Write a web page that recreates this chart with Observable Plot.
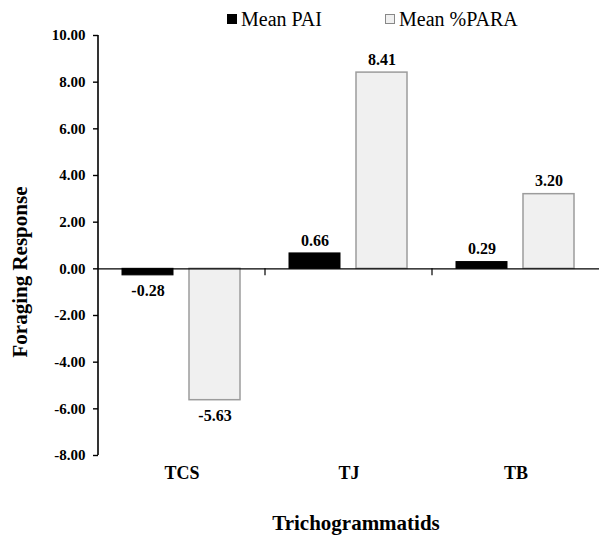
<!DOCTYPE html>
<html>
<head>
<meta charset="utf-8">
<script src="https://cdn.jsdelivr.net/npm/d3@7"></script>
<script src="https://cdn.jsdelivr.net/npm/@observablehq/plot@0.6"></script>
<style>
  body { margin: 0; background: #fff; }
  #wrap { position: relative; width: 600px; height: 537px; font-family: "Liberation Serif", Tinos, "Times New Roman", Times, "DejaVu Serif", serif; color: #000; }
  .legend { position: absolute; top: 6px; left: 0; width: 600px; height: 26px; font-size: 20px; }
  .item { position: absolute; top: 0; display: flex; align-items: center; height: 26px; white-space: nowrap; }
  .sw { width: 10px; height: 10px; margin-right: 4px; box-sizing: border-box; }
  .ylab { position: absolute; left: 20px; top: 272px; transform: translate(-50%, -50%) rotate(-90deg); font-size: 21px; font-weight: bold; white-space: nowrap; }
  .xlab { position: absolute; left: 356px; top: 523px; transform: translate(-50%, -50%); font-size: 21px; font-weight: bold; white-space: nowrap; }
  #chart { position: absolute; left: 0; top: 0; }
  #chart svg text { font-family: "Liberation Serif", Tinos, "Times New Roman", Times, "DejaVu Serif", serif; }
</style>
</head>
<body>
<div id="wrap">
  <div id="chart"></div>
  <div class="legend" id="legend"></div>
  <div class="ylab">Foraging Response</div>
  <div class="xlab">Trichogrammatids</div>
</div>
<script>
const categories = ["TCS", "TJ", "TB"];
const seriesNames = ["Mean PAI", "Mean %PARA"];
const meanPAI = [-0.28, 0.66, 0.29];
const meanPARA = [-5.63, 8.41, 3.20];
const yTicks = [-8, -6, -4, -2, 0, 2, 4, 6, 8, 10];
const seriesFill = ["#000000", "#f0f0f0"];
const seriesStroke = ["#000000", "#9c9c9c"];

const rows = [];
categories.forEach((c, i) => {
  rows.push({cat: c, series: seriesNames[0], value: meanPAI[i]});
  rows.push({cat: c, series: seriesNames[1], value: meanPARA[i]});
});

const serif = "'Liberation Serif', Tinos, 'Times New Roman', Times, 'DejaVu Serif', serif";

const plot = Plot.plot({
  width: 600,
  height: 537,
  marginTop: 35,
  marginBottom: 82,
  marginLeft: 97,
  marginRight: 0,
  style: {fontFamily: serif, fontWeight: "bold", fontSize: "15px", color: "#000", background: "transparent"},
  fx: {domain: categories, paddingInner: 0, paddingOuter: 0},
  x: {domain: seriesNames, paddingInner: 0.235, paddingOuter: 0.353, axis: null},
  y: {domain: [-8, 10]},
  marks: [
    Plot.barY(rows.filter(d => d.series === seriesNames[0]), {fx: "cat", x: "series", y: "value", fill: seriesFill[0], stroke: seriesStroke[0], inset: 0}),
    Plot.barY(rows.filter(d => d.series === seriesNames[1]), {fx: "cat", x: "series", y: "value", fill: seriesFill[1], stroke: seriesStroke[1], strokeWidth: 1.5, inset: 0}),
    Plot.ruleY([0], {stroke: "#000", strokeWidth: 1.4}),
    Plot.text(rows.filter(d => d.value >= 0), {fx: "cat", x: "series", y: "value", text: d => d.value.toFixed(2), dy: -13, lineAnchor: "middle", fontSize: 16, fontWeight: "bold", fill: "#000"}),
    Plot.text(rows.filter(d => d.value < 0), {fx: "cat", x: "series", y: "value", text: d => d.value.toFixed(2), dy: 16, lineAnchor: "middle", fontSize: 16, fontWeight: "bold", fill: "#000"}),
    Plot.axisY({ticks: yTicks, tickFormat: d => d.toFixed(2), tickSize: 5, tickPadding: 8, label: null, fontSize: 15, stroke: "#000", strokeWidth: 1.4}),
    Plot.axisFx({anchor: "bottom", tickSize: 0, tickPadding: 11, label: null, fontSize: 18})
  ]
});
document.getElementById("chart").appendChild(plot);

// axis line and category separator ticks, positioned through the plot's scales
const ys = plot.scale("y");
const fxs = plot.scale("fx");
const svg = d3.select(plot.tagName.toLowerCase() === "svg" ? plot : plot.querySelector("svg"));
const x0 = fxs.apply(categories[0]);
svg.append("line")
  .attr("x1", x0).attr("x2", x0)
  .attr("y1", ys.apply(yTicks[yTicks.length - 1])).attr("y2", ys.apply(yTicks[0]))
  .attr("stroke", "#000").attr("stroke-width", 1.6);
categories.slice(1).forEach(c => {
  const xx = fxs.apply(c);
  svg.append("line")
    .attr("x1", xx).attr("x2", xx)
    .attr("y1", ys.apply(0)).attr("y2", ys.apply(0) + 7)
    .attr("stroke", "#000").attr("stroke-width", 1.2);
});

// legend
const legendPos = [227, 385];
const leg = document.getElementById("legend");
seriesNames.forEach((s, i) => {
  const it = document.createElement("div");
  it.className = "item";
  it.style.left = legendPos[i] + "px";
  const sw = document.createElement("span");
  sw.className = "sw";
  sw.style.background = seriesFill[i];
  sw.style.border = "1px solid " + (i === 0 ? "#000" : "#888");
  const t = document.createElement("span");
  t.textContent = s;
  it.appendChild(sw); it.appendChild(t);
  leg.appendChild(it);
});
</script>
</body>
</html>
